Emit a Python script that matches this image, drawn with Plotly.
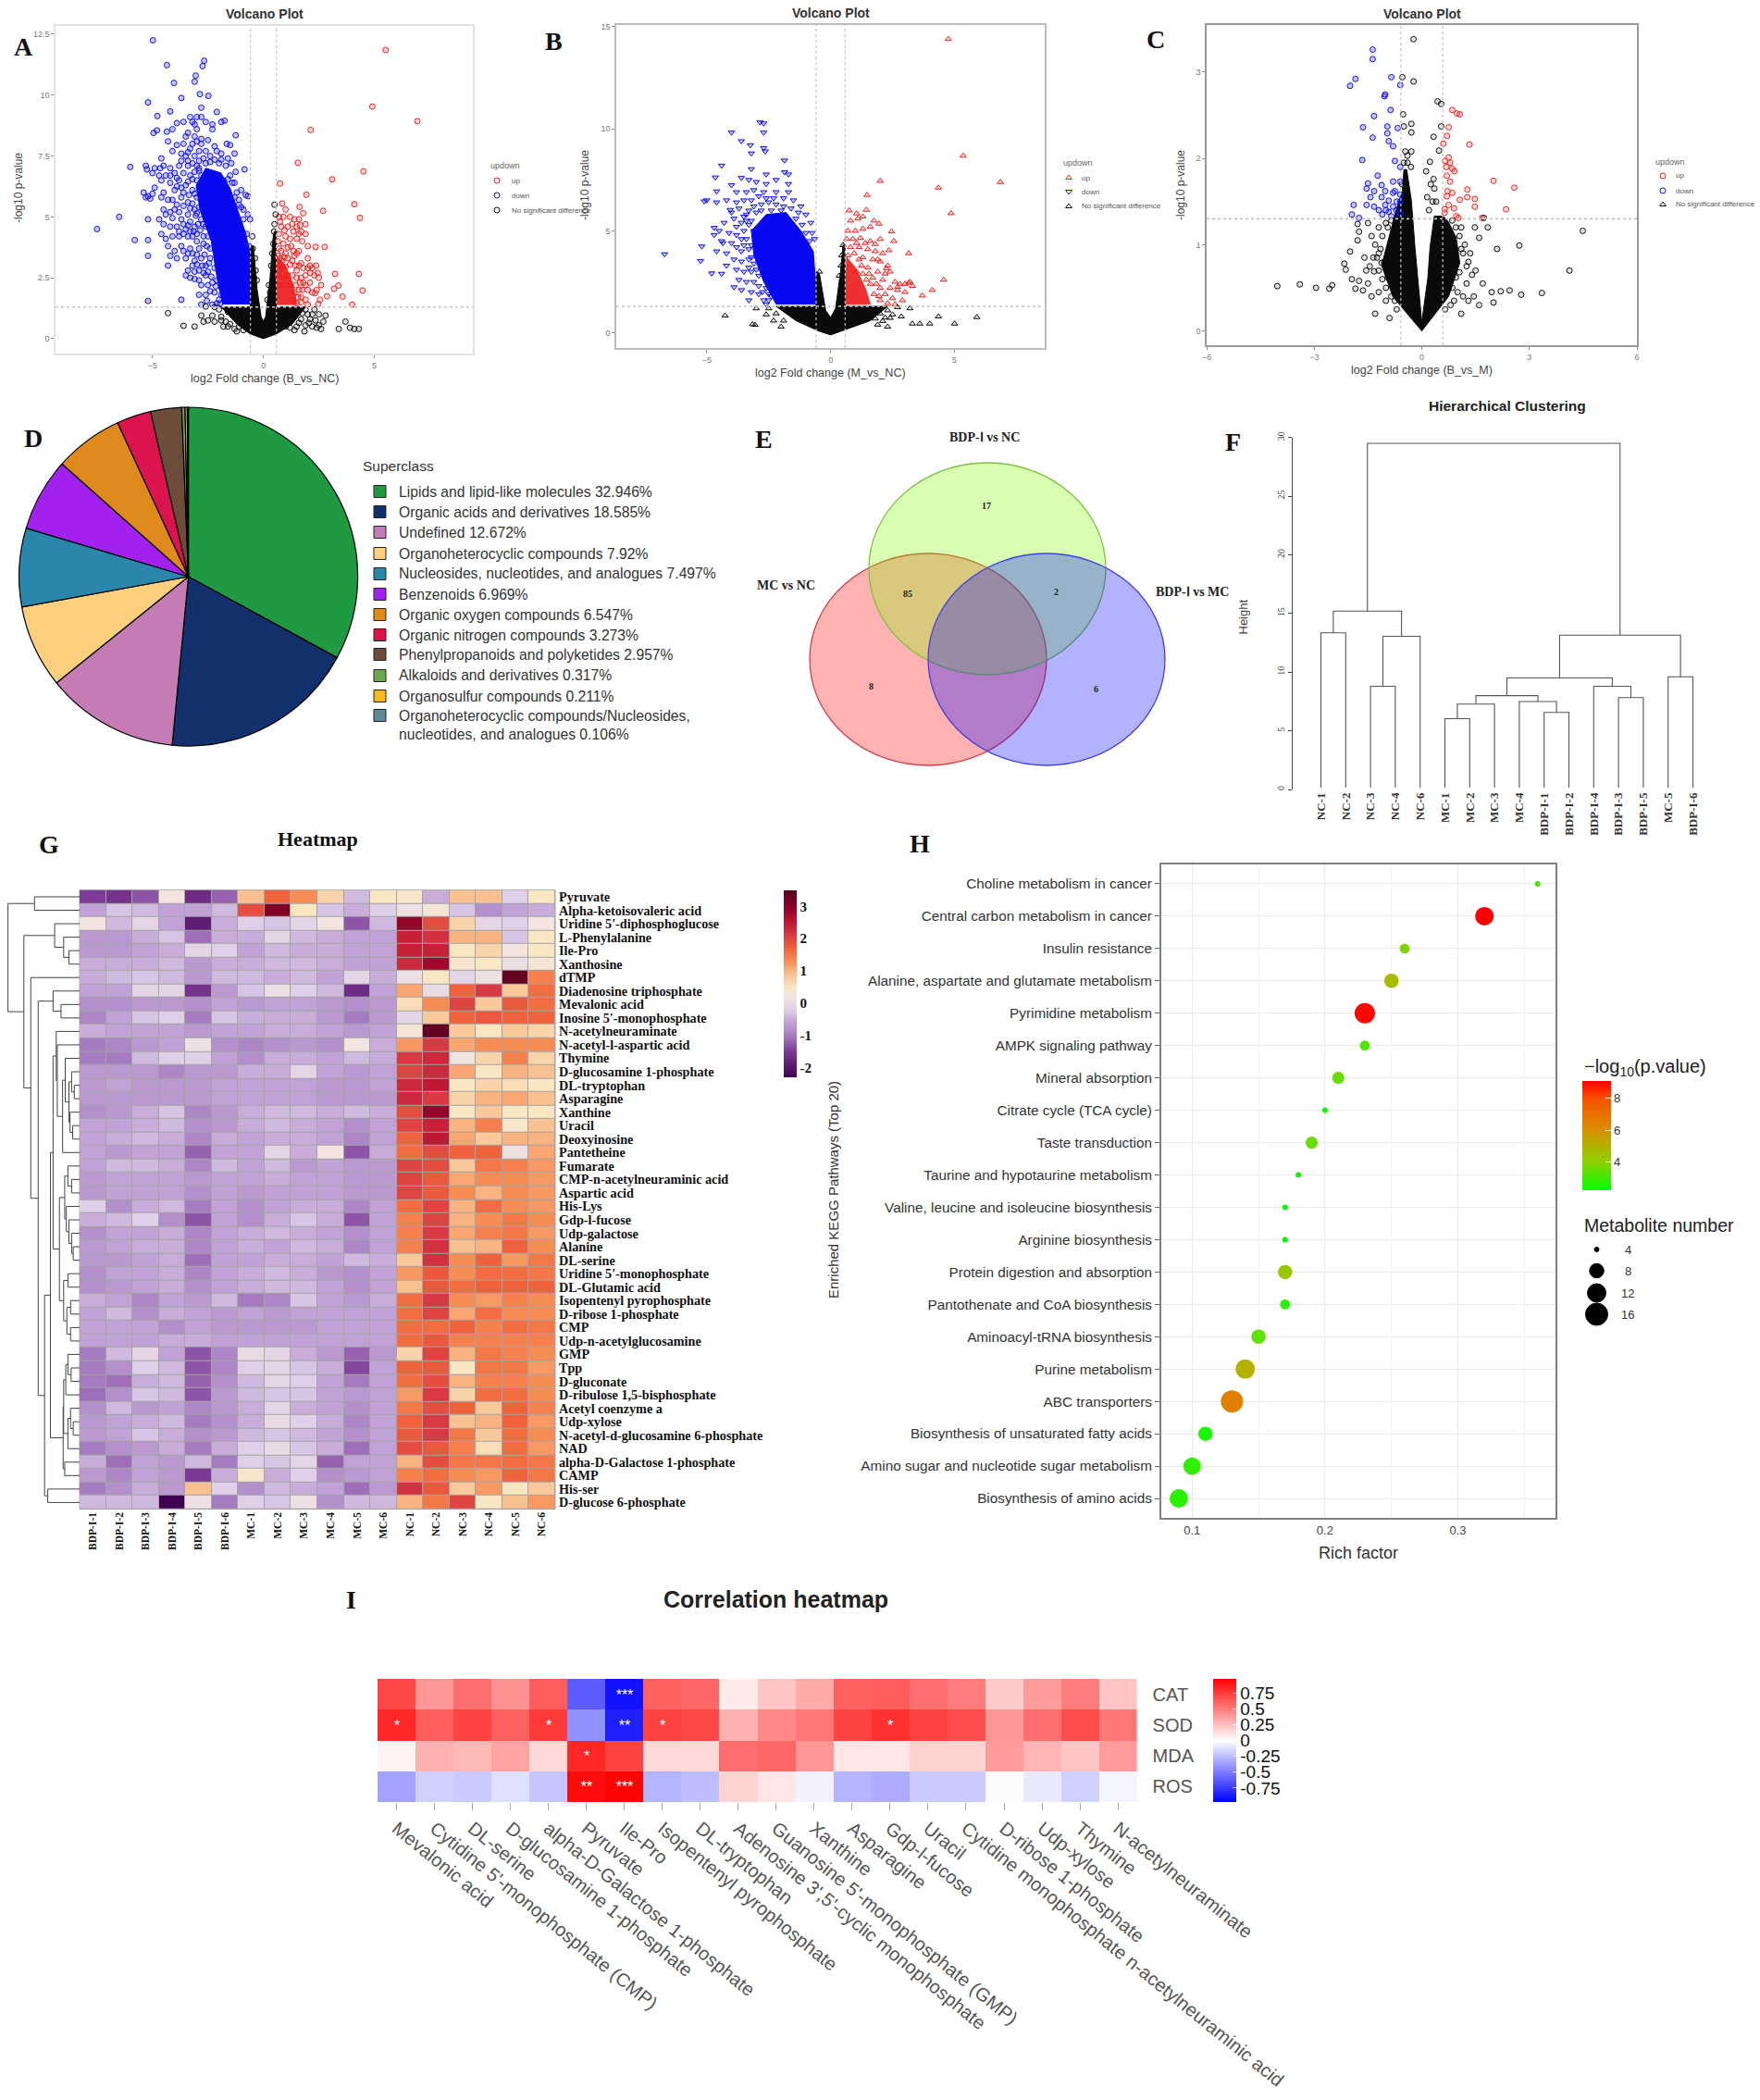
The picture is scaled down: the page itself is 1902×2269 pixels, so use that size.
import numpy as np
import plotly.graph_objects as go

W, H = 1902, 2269
SANS = "Liberation Sans"
SERIF = "Liberation Serif"

# ---------- Volcano data ----------
A_DOWN = [(-4.98,12.25),(-4.35,11.23),(-2.67,11.41),(-2.74,11.19),(-3.05,10.8),(-3.1,10.55),(-4.03,10.5),(-5.2,9.7),(-3.7,9.88),(-2.86,10.04),(-2.48,9.97),(-2.8,9.48),(-2.1,9.31),(-4.2,9.33),(-4.78,9.14),
(-3.3,9.1),(-3.0,9.1),(-2.8,9.1),(-3.6,8.9),(-3.2,8.9),(-2.6,8.9),(-1.9,8.9),(-1.75,8.95),(-2.3,8.8),(-3.1,8.8),(-3.9,8.85),(-4.1,8.6),(-3.0,8.6),(-2.3,8.6),(-4.95,8.45),(-4.8,8.55),(-4.35,8.5),(-3.4,8.45),(-1.25,8.35),
(-3.5,8.3),(-3.1,8.3),(-3,8.1),(-2.8,8.2),(-2.5,8.15),(-4.3,8.1),(-2.2,7.9),(-1.65,8),(-1.5,7.95),(-3.9,7.95),(-3.6,8),(-4.1,7.7),(-3.3,7.8),(-2.9,7.7),(-2.6,7.7),(-2.1,7.7),(-1.9,7.6),(-1.3,7.6),(-3.5,7.5),(-3.1,7.5),(-4.6,7.4),(-2.4,7.5),(-1.6,7.4),
(-6.0,7.05),(-5.3,7.1),(-5.25,6.95),(-4.9,7),(-4.65,7),(-4.5,7.1),(-4.2,7),(-3.8,7.1),(-3.4,7.1),(-3.0,7.1),(-2.6,7.2),(-2,7.2),(-1.7,7.1),(-5.0,6.8),(-4.7,6.7),(-4.4,6.7),(-4,6.8),(-3.6,6.8),(-3.3,6.7),(-2.9,6.9),(-0.85,6.95),(-1.25,6.85),(-1.5,6.7),(-3.0,6.5),
(-4.6,6.5),(-4.2,6.4),(-3.8,6.5),(-3.5,6.3),(-3.2,6.1),(-4.0,6.1),(-4.9,6.2),(-4.5,6.0),(-5.4,6.0),(-5.2,5.85),(-5.0,5.95),(-5.1,5.75),(-4.6,5.8),(-4.1,5.7),(-3.7,5.8),(-3.4,5.6),(-0.8,5.9),(-0.7,5.85),(-1.2,6.0),(-1.1,5.7),(-5.3,5.8),
(-4.0,5.3),(-4.4,5.1),(-3.8,5.2),(-3.4,5.1),(-3.1,5.3),(-4.1,4.95),(-3.7,4.9),(-3.3,4.8),(-6.5,5.0),(-5.2,4.9),(-4.7,4.9),(-4.5,4.7),(-4.2,4.6),(-3.9,4.6),(-3.5,4.5),(-3.1,4.6),(-0.6,4.9),(-0.7,5.1),(-7.5,4.5),
(-4.6,4.3),(-4.4,4.1),(-5.8,4.05),(-5.2,4.05),(-4.1,4.2),(-3.8,4.2),(-3.4,4.2),(-3.0,4.3),(-4.3,3.8),(-4,3.6),(-3.7,3.8),(-3.3,3.7),(-2.9,3.7),(-4.2,3.4),(-3.9,3.3),(-3.5,3.3),(-3.1,3.2),(-2.8,3.3),(-5.2,3.4),(-4.3,3.0),(-3.4,2.8),(-2.9,2.8),(-2.6,3.0),(-3.2,3),
(-3.5,2.6),(-3.3,2.5),(-3.1,2.45),(-2.9,2.4),(-2.6,2.6),(-2.8,2.2),(-2.5,2.2),(-2.3,2.3),(-2.9,1.8),(-2.6,1.8),(-2.2,1.9),(-3.7,1.6),(-5.2,1.55),(-2.0,1.6),(-2.3,1.4),(-2.8,1.4),(-1.9,1.8),
(-2.9,6.2),(-3.0,5.8),(-2.9,5.4),(-2.8,4.9),(-2.6,4.6),(-2.5,4.2),(-2.4,3.7),(-2.4,3.3),(-2.2,2.9),(-2.1,2.4),(-2.7,5.3),(-2.7,4.7),(-2.4,5.0),(-2.2,6.6),(-1.8,6.5),(-1.4,6.4),(-1.3,5.8),(-1,5.4),(-0.9,4.9),(-0.75,4.3),(-0.65,3.8),
(-3.7,7.3),(-3.4,7.3),(-3.2,7.2),(-2.9,7.3),(-2.7,7.4),(-2.4,7.25),(-2.2,7.35),(-1.9,7.35),(-1.45,7.2),(-2.8,8.0),(-3.2,8.0),(-3.4,7.65),(-3.7,7.6),
(-4.2,6.7),(-3.9,6.6),(-3.7,6.2),(-3.4,6.45),(-3.2,6.55),(-3.1,6.85),(-2.8,6.7),(-2.9,7.0),(-2.7,6.4),(-3.6,6.0),(-3.9,6.25),(-3.35,5.9),(-3.1,5.95),(-3.2,5.55),(-1.3,6.4),(-1.6,6.55),(-1.0,6.1),(-1.1,5.5),(-.9,5.3),
(-4.3,5.7),(-4.2,5.2),(-4.5,5.3),(-3.9,5.5),(-3.6,5.45),(-3.3,5.35),(-3.05,5.05),(-3.6,4.7),(-3.4,4.65),(-3.15,4.4),(-2.95,4.7),(-3.0,5.15),(-3.8,4.4),(-3.6,4.3),(-3.3,4.4),(-3.2,4.2),(-2.85,4.45),(-2.7,4.2),(-2.7,3.9),(-3.0,4.0),(-2.55,3.8),
(-3.6,3.6),(-3.4,3.5),(-3.2,3.5),(-3.0,3.45),(-2.65,3.45),(-3.0,3.05),(-2.75,3.0),(-2.5,2.75),(-2.45,3.1),(-2.35,2.55),(-2.7,2.7),(-3.1,2.75),(-2.4,1.95),(-2.15,2.15),(-2.55,1.55),(-2.1,1.45),(-1.95,1.45),(-1.9,2.1)]
A_UP = [(5.51,11.85),(4.91,9.53),(6.94,8.93),(2.13,8.57),(1.55,7.22),(4.51,6.87),(3.1,6.54),(.75,6.37),(1.94,5.91),(4.1,5.52),(1.63,5.41),(.85,5.55),(2.69,5.25),(1.79,5.15),(4.35,4.96),(2.35,3.77),(2.76,3.77),(3.23,2.66),(4.3,2.66),(2.5,2.5),(4.47,1.98),(3.38,2.18),(3.18,2.05),(3.57,1.73),(2.87,1.74),(2.47,1.42),(4.0,1.4),(2.38,3.0),(2.33,1.87),
(.9,5),(1.0,5.3),(.7,5),(1.2,5),(1.4,4.9),(1.6,4.9),(1.9,4.7),(.8,4.6),(1.1,4.6),(1.35,4.4),(1.7,4.4),(1.9,4.3),(.7,4.3),(1.0,4.2),(1.5,4.1),(1.75,4),(.65,4),(.9,3.9),(1.25,3.8),(1.6,3.6),(2.0,3.3),(1.4,3.4),(1.1,3.3),(1.7,3.1),(2.0,2.9),(2.2,2.9),(1.5,2.8),(1.9,2.6),(2.3,2.6),(1.8,2.3),(2.1,2.3),(1.6,2),(2.0,2),(2.2,1.9),(1.7,1.7),(1.9,1.6),(2.0,1.4),(.8,3.6),(1,3.5),
(.65,3.4),(.75,3.3),(.85,3.2),(.95,3.35),(.7,3.0),(.85,2.9),(1,2.95),(1.2,3.05),(1.3,3.2),(1.45,3),(1.6,3.0),(1.8,2.9),(.65,2.6),(.9,2.5),(1.1,2.6),(1.3,2.6),(1.5,2.5),(1.7,2.5),(2.1,2.7),(.7,2.2),(.95,2.2),(1.2,2.2),(1.45,2.2),(1.65,2.3),(1.9,2.2),(1.4,1.9),(1.55,1.7),(1.75,2.0),(1.3,1.6),(1.5,1.45),(1.7,1.5),(.7,3.7),(1.1,3.75),(1.35,3.6),(1.5,3.5),(1.2,4.1),(1.6,4.3),(1.3,4.7),(1.5,4.6),(.75,4.8),(.95,4.45),(1.65,4.65),(2.0,3.8),(2.1,3.0),(2.45,2.7),(2.6,2.2),(2.4,2.0),(2.55,1.6)]
A_NS = [(-4.3,1.05),(-3.6,.53),(-3.1,.5),(-2.8,.95),(-2.5,.75),(-2.2,.7),(-1.9,.75),(-1.8,.5),(-1.6,.5),(-2.6,1.32),(-1.9,.9),(-1.5,.6),(-1.3,.4),(-1.2,.3),(2.0,1.0),(2.2,1.0),(2.5,1.0),(2.7,.7),(3.7,.7),(3.4,.4),(3.9,.45),(4.1,.4),(4.3,.4),(2.6,.4),(2.4,.45),(2.2,.5),(1.9,.55),(2.1,.8),(1.7,.8),(1.5,.5),(1.4,.35),(1.9,1.2),(-0.5,4.2),(-.48,3.7),(-.38,3.3),(.5,5.5),(.55,5.1),(.5,4.7),(.48,4.4),(.45,3.9),(.4,3.5),(.35,3),
(-1.0,.95),(-1.3,1.1),(-1.6,1.1),(-2.0,1.2),(-2.2,1.3),(-1.1,.5),(-.9,.35),(-2.7,.7),(-2.3,.95),(-1.7,.7),(1.2,1.0),(1.5,1.1),(1.75,1.05),(2.3,1.2),(1.0,.5),(1.2,.45),(1.6,.65),(1.85,.3),(2.05,.65),(2.35,.75),(2.5,.55),(2.8,.95),(-.35,2.8),(-.42,2.5),(-.3,2.4),(.25,2.2),(.3,1.9),(.18,1.6)]
A_DOWN_CORE = [(-2.6,7.0),(-1.92,6.81),(-1.5,6.18),(-1.16,5.28),(-.82,4.39),(-.56,3.37),(-.51,1.42),(-1.84,1.42),(-2.09,2.5),(-2.35,4.0),(-2.86,5.28),(-3.03,6.3)]
A_UP_CORE = [(.6,1.4),(1.5,1.4),(1.35,2.2),(1.0,3.0),(.6,3.4)]
A_NS_CORE = [(-1.9,1.3),(-.58,1.3),(-.58,3.8),(-.45,3.8),(-.28,2),(-.1,.9),(0,.72),(.1,.9),(.3,2.5),(.45,4.3),(.58,4.5),(.58,1.3),(1.9,1.3),(1.3,.6),(.6,.2),(0,0),(-.6,.2),(-1.2,.6)]

B_DOWN = [(-2.85,10.32),(-2.7,10.27),(-4,9.82),(-2.7,9.82),(-3.6,9.4),(-3.24,9.2),(-2.7,9.06),(-2.64,8.9),(-3.2,8.8),(-1.86,8.45),(-4.4,8.2),(-4.65,7.62),(-3.2,8.03),(-2.6,7.77),(-1.86,7.88),(-1.7,7.77),(-4,7.24),(-4.6,6.94),(-5,6.5),(-5.1,6.45),(-4.6,6.4),(-4.05,6.03),(-4.7,5.15),(-4.7,4.8),(-5.2,4.24),(-4.35,4.4),(-6.7,3.86),(-5.25,3.53),(-4.8,2.92),(-3.9,2.24),
(-3.6,7.6),(-3.3,7.5),(-3.0,7.4),(-2.6,7.3),(-2.2,7.5),(-1.7,7.3),(-3.8,6.9),(-3.4,6.9),(-3.1,7.0),(-2.7,6.9),(-2.2,6.9),(-1.7,6.9),(-4.2,6.5),(-3.8,6.4),(-3.5,6.5),(-3.2,6.5),(-2.9,6.7),(-1.5,6.5),(-1.2,6.2),(-4.0,5.9),(-3.7,6.1),(-3.3,6.0),(-1.3,5.9),(-1.0,5.8),(-3.9,5.6),(-3.5,5.7),(-4.3,5.4),(-3.8,5.2),(-3.6,5.4),(-4.5,5.0),(-4.1,4.9),(-3.8,4.8),(-3.6,4.6),(-4.4,4.5),(-4.0,4.4),(-3.8,4.2),(-3.6,4.0),(-4.6,4.0),(-4.2,3.9),(-3.9,3.6),(-3.6,3.5),(-3.3,3.6),(-4.2,3.3),(-3.8,3.1),(-3.5,3.0),(-3.2,3.0),(-4.4,2.9),(-3.7,2.6),(-3.4,2.5),(-3.1,2.5),(-2.9,2.3),(-3.6,2.1),(-3.2,2.0),(-2.9,1.9),(-2.7,1.6),(-3.3,1.6),(-2.6,2.2),(-2.4,1.8),(-2.6,1.4),(-.8,5.4),(-.75,4.9),(-.65,4.6),(-3.2,4.3),(-3.1,5.0),(-3.2,5.5),
(-3.4,5.8),(-3.1,6.2),(-2.8,6.3),(-2.5,6.4),(-2.2,6.3),(-1.9,6.2),(-1.6,6.1),(-3.5,5.0),(-3.4,4.6),(-3.3,4.1),(-3.2,3.7),(-3.1,3.4),(-3.0,3.1),(-2.9,2.8),(-3.3,5.3),(-2.8,6.0),(-2.4,6.0),(-2.0,6.0),(-1.4,5.6),(-1.15,5.3),(-1.0,4.9),(-.85,4.5),(-3.4,5.5),(-3.0,5.9),(-3.5,4.3),(-3.3,3.2),(-2.6,6.6),(-2.3,6.6),(-1.9,6.6),(-2.75,2.0),(-2.5,1.6),(-2.5,1.9)]
B_UP = [(4.75,14.4),(5.35,8.68),(6.85,7.39),(2,7.45),(4.35,7.12),(1.47,6.76),(4.86,5.86),(1.44,6.03),(.75,6),(1.05,5.85),(1.3,5.7),(1.75,5.5),(1.95,5.35),(2.46,4.97),(2.55,4.5),(3.15,3.9),(2.35,4.05),(1.8,4.35),(1.2,4.65),(2.25,3.15),(2.4,3.0),(4.56,2.6),(3.15,2.45),(2.8,2.4),(2.7,2.25),(4.1,2.1),(3.7,1.83),
(.8,5.5),(1.1,5.6),(.7,5),(1,5),(1.3,5.1),(1.6,5.2),(.65,4.6),(.9,4.6),(1.6,4.5),(2,4.6),(.8,4.2),(1.15,4.2),(1.5,4.1),(1.8,4),(2.1,3.9),(1.3,3.7),(1.7,3.6),(2,3.5),(2.3,3.3),(1.5,3.2),(1.9,3.0),(2.2,2.9),(1.7,2.7),(2.1,2.6),(2.6,2.5),(3.0,2.4),(3.2,2.5),(3.3,2.3),(2.0,2.2),(2.4,2.2),(2.7,2.1),(3.0,2.0),(2.2,1.9),(2.5,1.7),(2.9,1.6),(2.0,1.6),(2.3,1.45),(2.6,1.4),
(.7,3.8),(.95,3.9),(1.15,3.6),(1.25,3.3),(1.05,3.0),(1.3,2.9),(1.45,2.6),(1.6,2.4),(1.85,2.4),(1.75,1.9),(1.95,1.8),(1.55,2.9),(1.4,4.4),(1.9,3.6),(1.05,4.4)]
B_NS = [(-4.26,.85),(-3.15,.42),(-3.05,.39),(-3.0,1.2),(2.85,.8),(4.35,.8),(5.9,.77),(5,.45),(3.3,.45),(3.6,.45),(4,.45),(2.7,1.26),(3.2,1.2),(2.4,.73),(2.1,.58),(-2.3,.6),(-2.6,.9),(-2.0,.3),(2.3,.3),(1.9,.4),(-.45,3.0),(.5,4.3),(.45,3.8),(.42,3.3),(.35,2.8),
(-2.5,1.2),(-2.2,.95),(-1.9,.6),(2.0,.95),(2.3,1.1),(2.5,.9),(2.2,.75),(1.8,.7)]
B_DOWN_CORE = [(-2.6,5.8),(-1.8,5.9),(-1.2,5.0),(-.7,4.0),(-.54,1.41),(-2.2,1.41),(-2.7,2.5),(-3.1,3.8),(-3.2,5.0)]
B_UP_CORE = [(.6,1.4),(1.6,1.4),(1.4,2.2),(1.0,3.2),(.65,3.7)]
B_NS_CORE = [(-2.2,1.3),(-.58,1.3),(-.58,3.0),(-.45,2.9),(-.2,1.1),(0,.75),(.2,1.2),(.4,3.0),(.5,4.3),(.58,4.3),(.58,1.3),(2.3,1.3),(1.6,.6),(.5,.1),(0,-.1),(-.5,.1),(-1.4,.6)]

C_DOWN = [(-1.37,3.26),(-1.37,3.15),(-1.85,2.92),(-2,2.84),(-.85,2.94),(-.6,2.85),(-1.02,2.74),(-1.04,2.72),(-.87,2.56),(-1.33,2.49),(-1.64,2.36),(-.96,2.37),(-.67,2.35),(-1.37,2.24),(-.96,2.29),(-.92,2.2),(-.8,2.14),(-1.66,1.98),(-.75,1.97),(-.6,1.9),(-1.23,1.8),(-1.5,1.71),(-.8,1.73),(-1.12,1.69),(-.6,1.73),(-1.54,1.65),(-1.33,1.62),(-1.02,1.62),(-.8,1.6),(-.6,1.58),(-1.12,1.55),(-1.43,1.55),(-.92,1.51),(-.6,1.5),(-1.9,1.46),(-1.02,1.46),(-.8,1.44),(-1.54,1.46),(-1.33,1.44),(-.71,1.4),(-.92,1.38),(-1.95,1.35),(-.6,1.36),(-1.75,1.31),(-1.1,1.35),(-1.0,1.4),(-.85,1.33),(-1.2,1.4),(-.7,1.5),(-.75,1.62)]
C_UP = [(.85,2.56),(1.06,2.51),(.98,2.52),(.75,2.36),(.7,2.26),(.6,2.17),(1.33,2.16),(.75,2.01),(.65,1.97),(.79,1.95),(.85,1.88),(.91,1.85),(.7,1.8),(.79,1.73),(2.0,1.74),(2.58,1.66),(1.27,1.64),(.85,1.6),(.7,1.56),(1.27,1.55),(1.06,1.52),(1.48,1.53),(2.35,1.41),(.64,1.41),(.64,1.37),(.75,1.46),(1.48,1.44),(.96,1.33),(1.02,1.31),(1.68,1.31),(.68,1.9),(.72,1.62),(.9,1.42)]
C_NS = [(-.23,3.38),(-.23,2.89),(.44,2.66),(.54,2.63),(-.54,2.94),(-.52,2.51),(-.29,2.4),(-.5,2.37),(-.29,2.3),(.54,2.37),(-.46,2.08),(-.29,2.08),(-.4,2.03),(.33,2.25),(.48,2.09),(.23,1.96),(.12,1.85),(.33,1.76),(4.49,1.16),(2.72,.99),(4.12,.7),(3.35,.44),(2.77,.42),(2.45,.47),(2.2,.46),(1.95,.45),(2.0,.33),(2.1,.95),(1.84,1.2),(1.6,1.08),(1.48,1.2),(1.73,1.31),(-4.03,.52),(-3.4,.54),(-2.95,.5),(-2.5,.53),(-2.58,.49),(-2.16,.78),(-2.12,.71),(-2.0,.92),(-1.95,.6),(-1.75,.58),(-1.85,.49),(-1.64,.47),(-1.79,1.05),(-1.75,1.15),(-1.79,1.24),(-1.33,.69),(-1.12,.79),(-1.5,.55),(-1.4,.4),(-1.2,.45),(-1.0,.35),(-1.3,.2),(-.9,.15),(1.3,.8),(1.5,.7),(1.7,.55),(1.45,.4),(1.3,.35),(1.6,.3),(1.1,.2),(1.2,1.0),(1.1,1.2),(-1.1,1.1),(-1.3,1.0),(-1.0,1.25),(-.9,.6),(-1.2,.9),
(-1.0,.5),(-.95,.62),(-.85,.4),(-1.05,.8),(-1.15,.95),(-1.25,.85),(-.95,1.2),(-.85,1.28),(.85,.5),(.95,.62),(1.0,.45),(.9,.35),(1.05,.68),(1.15,.9),(1.25,.75),(1.05,1.1),(1.1,.95),(.95,1.2),(.85,1.28),(1.35,.9),(1.4,.65),(1.25,.55),(1.15,.4),(.8,.3),(.65,.25),(-.7,.25),(-.75,.35),(-1.1,.6),(-1.2,.7),(-1.35,.85),(-1.45,.75),(-1.55,.7),(-1.6,.85),(-1.4,1.1),(-1.2,1.2),(-1.5,1.25),(-.4,1.95),(-.5,1.95),(-.45,1.65),(-.55,1.7),(-.3,1.9),(.3,1.5),(.35,1.65),(.4,1.5),(.25,1.7),(.2,1.4),(.15,1.55)]
C_NS_CORE_L = [(0,0),(-.81,.4),(-1.12,.76),(-.91,1.08),(-.71,1.41),(-.54,1.62),(-.5,1.87),(-.42,1.87),(-.29,1.51),(-.19,.97),(-.12,.62),(0,.1)]
C_NS_CORE_R = [(0,0),(.75,.4),(1.06,.79),(.96,1.08),(.75,1.26),(.6,1.33),(.35,1.33),(.23,.97),(.17,.62),(0,.1)]

# ---------- Pie ----------
PIE_NAMES = ["Lipids and lipid-like molecules","Organic acids and derivatives","Undefined","Organoheterocyclic compounds","Nucleosides, nucleotides, and analogues","Benzenoids","Organic oxygen compounds","Organic nitrogen compounds","Phenylpropanoids and polyketides","Alkaloids and derivatives","Organosulfur compounds","Organoheterocyclic compounds/Nucleosides,<br>nucleotides, and analogues"]
PIE_VALUES = [32.946,18.585,12.672,7.92,7.497,6.969,6.547,3.273,2.957,0.317,0.211,0.106]
PIE_LABELS = ["32.946%","18.585%","12.672%","7.92%","7.497%","6.969%","6.547%","3.273%","2.957%","0.317%","0.211%","0.106%"]
PIE_COLORS = ["#1f9a43","#11306c","#c57cb4","#fbcf7e","#2a87ab","#a321ef","#e08a1e","#dc144e","#6e4c3c","#6aa84f","#f5b921","#5f8a96"]

# ---------- Venn ----------
VENN_CX = [1003, 1067, 1131]
VENN_CY = [712.5, 614.5, 712.5]
VENN_FILL = ["rgba(255,0,0,0.30)", "rgba(127,255,0,0.30)", "rgba(0,0,255,0.30)"]
VENN_EDGE = ["#d0404a", "#80c040", "#4040e0"]

# ---------- Dendrogram F ----------
F_LEAVES = ["NC-1","NC-2","NC-3","NC-4","NC-6","MC-1","MC-2","MC-3","MC-4","BDP-I-1","BDP-I-2","BDP-I-4","BDP-I-3","BDP-I-5","MC-5","BDP-I-6"]
F_TREE = (29.5,(15.2,(13.35,0,1),(13.05,(8.8,2,3),4)),(13.15,(9.5,(8.0,(7.28,(6.04,5,6),7),(7.49,8,(6.57,9,10))),(8.8,11,(7.83,12,13))),(9.6,14,15)))

# ---------- Heatmap G ----------
G_ROWS = ["Pyruvate","Alpha-ketoisovaleric acid","Uridine 5'-diphosphoglucose","L-Phenylalanine","Ile-Pro","Xanthosine","dTMP","Diadenosine triphosphate","Mevalonic acid","Inosine 5'-monophosphate","N-acetylneuraminate","N-acetyl-l-aspartic acid","Thymine","D-glucosamine 1-phosphate","DL-tryptophan","Asparagine","Xanthine","Uracil","Deoxyinosine","Pantetheine","Fumarate","CMP-n-acetylneuraminic acid","Aspartic acid","His-Lys","Gdp-l-fucose","Udp-galactose","Alanine","DL-serine","Uridine 5'-monophosphate","DL-Glutamic acid","Isopentenyl pyrophosphate","D-ribose 1-phosphate","CMP","Udp-n-acetylglucosamine","GMP","Tpp","D-gluconate","D-ribulose 1,5-bisphosphate","Acetyl coenzyme a","Udp-xylose","N-acetyl-d-glucosamine 6-phosphate","NAD","alpha-D-Galactose 1-phosphate","CAMP","His-ser","D-glucose 6-phosphate"]
G_COLS = ["BDP-I-1","BDP-I-2","BDP-I-3","BDP-I-4","BDP-I-5","BDP-I-6","MC-1","MC-2","MC-3","MC-4","MC-5","MC-6","NC-1","NC-2","NC-3","NC-4","NC-5","NC-6"]
G_Z = [
[-1.5,-1.6,-1.3,0.2,-1.7,-1.2,0.9,1.7,1.3,0.7,-0.4,0.5,0.4,-0.5,0.9,0.9,-0.2,0.5],
[-0.6,-0.3,-0.4,-0.6,-0.6,-0.4,1.9,3.1,0.5,-0.3,-0.5,-0.2,0.1,0.3,-0.3,-0.8,-0.6,-0.5],
[0.2,-0.4,-0.1,-0.6,-1.9,-0.5,-0.2,-0.3,-0.1,0.2,-1.3,-0.4,2.9,1.9,0.7,-0.1,-0.2,0.2],
[-0.7,-0.7,-0.5,-0.3,-1.1,-0.5,-0.5,-0.1,-0.4,-0.5,-0.6,-0.6,2.4,2.2,1.0,1.0,-0.3,0.5],
[-0.7,-0.7,-0.6,-0.5,-0.1,-0.2,-0.6,-0.4,-0.5,-0.5,-0.6,-0.6,2.4,2.4,0.5,0.7,0.2,0.5],
[-0.5,-0.5,-0.5,-0.4,-0.7,-0.5,-0.5,-0.4,-0.4,-0.5,-0.6,-0.6,2.3,2.8,0.4,0.5,0.1,0.3],
[-0.5,-0.4,-0.3,-0.4,-0.7,-0.4,-0.4,-0.5,-0.4,-0.6,-0.1,-0.5,0.1,0.5,-0.1,0.1,3.4,1.4],
[-0.6,-0.6,-0.1,-0.1,-1.6,-0.7,-0.3,0.1,-0.2,-0.4,-1.7,-0.6,1.1,0.0,1.7,2.1,0.8,1.6],
[-0.8,-0.8,-0.7,-0.7,-0.8,-0.6,-0.7,-0.6,-0.6,-0.7,-0.8,-0.7,0.6,1.3,2.0,0.8,1.8,1.6],
[-0.9,-0.6,-0.3,-0.2,-1.0,-0.3,-0.5,-0.5,-0.5,-0.7,-1.0,-0.7,-0.1,0.8,1.7,1.8,1.7,1.7],
[-0.5,-0.6,-0.6,-0.6,-0.7,-0.6,-0.6,-0.5,-0.5,-0.6,-0.7,-0.6,0.3,3.4,0.8,0.5,0.8,0.7],
[-1.0,-0.9,-0.7,-0.6,0.1,-0.8,-0.9,-0.8,-0.7,-0.8,0.2,-0.5,1.2,2.1,1.1,1.3,1.3,1.3],
[-1.0,-1.0,-0.4,-0.2,-0.2,-0.6,-0.8,-0.5,-0.5,-0.6,-0.4,-0.5,2.1,2.3,0.2,0.7,1.4,0.7],
[-0.7,-0.7,-0.7,-0.9,-0.7,-0.7,-0.5,-0.5,-0.1,-0.6,-0.7,-0.6,2.0,2.3,1.1,0.5,1.0,0.9],
[-0.7,-0.6,-0.7,-0.7,-0.7,-0.6,-0.6,-0.6,-0.6,-0.7,-0.7,-0.6,2.3,2.5,0.5,0.7,0.6,0.5],
[-0.7,-0.7,-0.7,-0.7,-0.7,-0.6,-0.6,-0.6,-0.6,-0.7,-0.7,-0.7,2.3,2.1,0.7,1.0,1.1,0.9],
[-0.8,-0.7,-0.5,-0.3,-0.9,-0.7,-0.5,-0.4,-0.4,-0.5,-0.4,-0.5,1.9,2.9,0.5,0.8,0.5,0.5],
[-0.6,-0.6,-0.5,-0.4,-0.8,-0.7,-0.5,-0.4,-0.5,-0.6,-0.8,-0.6,2.0,2.4,1.0,1.4,0.4,0.9],
[-0.6,-0.5,-0.4,-0.5,-0.9,-0.5,-0.6,-0.5,-0.5,-0.6,-0.9,-0.6,1.7,2.5,1.1,0.8,1.0,1.0],
[-0.6,-0.7,-0.6,-0.6,-1.2,-0.6,-0.6,-0.1,-0.5,0.2,-1.3,-0.5,1.6,1.9,1.7,1.7,0.1,1.1],
[-0.6,-0.4,-0.4,-0.5,-0.9,-0.4,-0.6,-0.4,-0.7,-0.6,-0.7,-0.7,2.0,1.9,0.8,1.5,1.4,1.2],
[-0.7,-0.6,-0.6,-0.6,-0.7,-0.6,-0.6,-0.5,-0.6,-0.6,-0.7,-0.7,2.0,1.8,1.1,1.3,1.3,1.2],
[-0.7,-0.6,-0.6,-0.6,-0.8,-0.6,-0.7,-0.6,-0.6,-0.6,-0.7,-0.7,2.0,1.8,1.3,1.0,1.3,1.2],
[-0.2,-0.8,-0.5,-0.4,-1.0,-0.6,-0.8,-0.6,-0.5,-0.5,-0.9,-0.6,1.6,2.0,1.0,1.6,1.3,1.2],
[-0.5,-0.4,-0.2,-0.8,-1.3,-0.6,-0.8,-0.5,-0.3,-0.5,-1.3,-0.6,1.4,2.0,1.0,1.3,1.5,1.3],
[-0.8,-0.6,-0.6,-0.5,-0.9,-0.6,-0.5,-0.4,-0.5,-0.6,-0.8,-0.6,1.4,2.1,1.1,1.4,1.5,1.2],
[-0.7,-0.6,-0.5,-0.5,-0.9,-0.6,-0.5,-0.6,-0.4,-0.5,-0.9,-0.6,1.4,2.2,0.9,1.0,1.7,1.3],
[-0.7,-0.7,-0.6,-0.5,-1.1,-0.6,-0.6,-0.5,-0.5,-0.6,-0.4,-0.5,0.8,2.2,1.3,1.7,1.2,1.5],
[-0.8,-0.6,-0.6,-0.5,-0.9,-0.6,-0.5,-0.4,-0.5,-0.7,-0.8,-0.6,1.2,1.8,1.3,1.6,1.6,1.5],
[-0.8,-0.7,-0.6,-0.5,-0.8,-0.6,-0.5,-0.4,-0.4,-0.6,-0.8,-0.6,0.9,1.8,1.6,1.7,1.7,1.7],
[-0.5,-0.6,-0.9,-0.6,-0.7,-0.4,-1.0,-0.9,-0.3,-0.6,-0.7,-0.5,1.6,2.1,1.3,1.2,1.4,1.3],
[-0.6,-0.4,-0.8,-0.5,-0.6,-0.7,-0.6,-0.7,-0.6,-0.6,-0.6,-0.6,1.6,2.0,1.1,1.6,1.3,1.3],
[-0.6,-0.6,-0.6,-0.8,-0.6,-0.7,-0.7,-0.7,-0.7,-0.6,-0.6,-0.6,1.6,1.6,1.7,1.4,1.6,1.5],
[-0.6,-0.6,-0.6,-0.5,-0.5,-0.6,-0.6,-0.6,-0.6,-0.6,-0.6,-0.6,1.6,1.8,1.4,1.4,1.4,1.4],
[-1.0,-0.4,-0.1,-0.6,-1.3,-0.9,0.0,-0.1,-0.5,-0.7,-1.2,-0.7,0.7,2.0,1.0,1.5,1.4,1.3],
[-1.0,-0.8,-0.2,-0.4,-1.3,-0.9,-0.2,-0.1,-0.3,-0.5,-1.4,-0.6,1.7,1.8,0.5,1.5,1.5,1.2],
[-1.0,-1.1,-0.5,-0.4,-1.2,-0.8,-0.4,-0.1,-0.2,-0.6,-1.0,-0.6,1.6,1.9,1.0,1.4,1.4,1.3],
[-1.1,-0.8,-0.3,-0.4,-1.3,-0.7,-0.4,-0.3,-0.3,-0.6,-0.7,-0.6,1.2,2.1,0.7,1.6,1.6,1.3],
[-0.8,-0.4,-0.7,-0.6,-0.9,-0.7,-0.5,-0.1,-0.5,-0.6,-0.8,-0.6,1.5,1.9,1.7,0.8,1.7,1.4],
[-0.7,-0.6,-0.5,-0.4,-1.0,-0.8,-0.5,0.0,-0.2,-0.5,-0.9,-0.6,1.7,2.1,0.9,1.0,1.7,1.2],
[-0.7,-0.6,-0.3,-0.5,-0.8,-0.7,-0.4,-0.3,-0.4,-0.6,-0.8,-0.6,1.8,2.1,1.5,0.8,1.6,1.3],
[-1.0,-0.8,-0.7,-0.5,-1.0,-0.5,-0.2,0.0,-0.3,-0.5,-1.1,-0.6,1.9,1.8,1.4,0.6,1.6,1.2],
[-0.5,-1.1,-0.6,-0.7,-0.4,-1.0,-0.2,-0.3,-0.1,-1.2,-0.6,-0.6,1.0,1.9,1.5,1.5,1.6,1.5],
[-0.7,-0.9,-0.6,-0.7,-1.5,-0.5,0.4,-0.5,-0.2,-0.8,-0.7,-0.6,1.4,1.6,1.3,1.2,1.7,1.5],
[-1.0,-0.8,-0.5,-0.7,0.9,-0.2,-0.8,-0.4,-0.5,-0.6,-1.1,-0.7,2.2,1.8,0.8,1.2,0.5,0.8],
[-0.4,-0.4,-0.4,-2.3,0.1,-1.0,-0.2,-0.3,0.1,-0.8,-0.4,-0.4,1.0,1.5,2.0,0.5,0.9,1.2]]
G_STOPS_V = [-2.3,-1.5,-1.0,-0.6,-0.2,0.2,0.5,0.9,1.3,1.7,2.1,2.6,3.0,3.5]
G_STOPS_C = ["#3f004f","#7d3a96","#a67cc0","#c0a2d6","#e0cfe8","#f3e4e0","#f9e6c2","#f9c090","#f88c55","#f0623c","#d83a44","#b81030","#8a0028","#5a0020"]
G_TREE = (15,(65,0,1),(45,(103,2,(120,3,(130,4,5))),(58,6,(72,(100,7,(115,8,9)),(84,(95,
    (100,(106,10,(108,11,(118,(123,12,(130,(135,13,(140,14,15)),(132,16,(137,17,18)))),19))),
         (112,(122,(128,20,(135,21,22)),(125,23,(130,24,(135,25,(138,26,27))))),(120,(128,28,29),(126,(133,30,31),(133,32,33))))),
    (119,(120,(124,(128,34,(134,35,36)),37),(128,(133,38,(138,39,40)),41)),(122,42,43))),
    (90,44,45))))))

# ---------- Bubble H ----------
H_PATHS = ["Choline metabolism in cancer","Central carbon metabolism in cancer","Insulin resistance","Alanine, aspartate and glutamate metabolism","Pyrimidine metabolism","AMPK signaling pathway","Mineral absorption","Citrate cycle (TCA cycle)","Taste transduction","Taurine and hypotaurine metabolism","Valine, leucine and isoleucine biosynthesis","Arginine biosynthesis","Protein digestion and absorption","Pantothenate and CoA biosynthesis","Aminoacyl-tRNA biosynthesis","Purine metabolism","ABC transporters","Biosynthesis of unsaturated fatty acids","Amino sugar and nucleotide sugar metabolism","Biosynthesis of amino acids"]
H_RICH = [.36,.32,.26,.25,.23,.23,.21,.20,.19,.18,.17,.17,.17,.17,.15,.14,.13,.11,.10,.09]
H_NUM = [4,12,6,8,14,6,7,4,7,4,4,4,8,6,8,13,16,8,11,12]
H_P = [3.1,9.2,3.8,4.7,9.0,3.2,3.5,2.3,3.5,2.3,2.2,2.2,4.3,2.7,3.4,5.0,6.5,2.5,2.8,2.7]

# ---------- Correlation I ----------
I_COLS = ["Mevalonic acid","Cytidine 5'-monophosphate (CMP)","DL-serine","D-glucosamine 1-phosphate","alpha-D-Galactose 1-phosphate","Pyruvate","Ile-Pro","Isopentenyl pyrophosphate","DL-tryptophan","Adenosine 3',5'-cyclic monophosphate","Guanosine 5'-monophosphate (GMP)","Xanthine","Asparagine","Gdp-l-fucose","Uracil","Cytidine monophosphate n-acetylneuraminic acid","D-ribose 1-phosphate","Udp-xylose","Thymine","N-acetylneuraminate"]
I_ROWS = ["CAT","SOD","MDA","ROS"]
I_Z = [[.7,.4,.55,.42,.62,-.62,-.9,.6,.58,.08,.22,.32,.6,.62,.55,.5,.2,.38,.5,.22],
[.82,.62,.72,.6,.75,-.42,-.85,.72,.7,.3,.45,.52,.72,.78,.72,.68,.4,.55,.68,.52],
[.05,.3,.27,.35,.15,.82,.72,.15,.15,.55,.58,.4,.1,.1,.17,.17,.38,.28,.22,.38],
[-.35,-.18,-.2,-.12,-.22,.92,.96,-.28,-.25,.17,.1,-.05,-.28,-.32,-.2,-.2,-.01,-.08,-.18,-.04]]
I_STARS = [["","","","","","","***","","","","","","","","","","","","",""],
["*","","","","*","","**","*","","","","","","*","","","","","",""],
["","","","","","*","","","","","","","","","","","","","",""],
["","","","","","**","***","","","","","","","","","","","","",""]]

# ---------- Layout helpers ----------
def fx(px): return px / W
def fy(py): return 1 - py / H
def xdom(a, b): return [fx(a), fx(b)]
def ydom(top, bottom): return [fy(bottom), fy(top)]
def xs(p): return [q[0] for q in p]
def ys(p): return [q[1] for q in p]
def closed(p): return p + [p[0]]

fig = go.Figure()
ann = []
shapes = []
def text(t, x, y, size=12, color="#333", family=SANS, bold=False, anchor="center", angle=0):
    ann.append(dict(text=t, x=fx(x), y=fy(y), xref="paper", yref="paper", showarrow=False, xanchor=anchor, yanchor="middle",
                    textangle=angle, font=dict(size=size, color=color, family=family, weight="bold" if bold else "normal")))

def volcano(idx, cores, down, up, ns, dsym, usym, nsym, box, xr, yr, xt, yt, line, tfont):
    xa, ya = ("x" + idx), ("y" + idx)
    for core, col in cores:
        fig.add_trace(go.Scatter(x=xs(closed(core)), y=ys(closed(core)), mode="lines", fill="toself", fillcolor=col, line=dict(color=col, width=1), xaxis=xa, yaxis=ya, hoverinfo="skip"))
    for pts, col, sym, fill in [(down, "#1010f0", dsym, "rgba(0,0,255,0.22)"), (up, "#f02020", usym, "rgba(255,0,0,0.15)"), (ns, "#101010", nsym, "rgba(0,0,0,0.12)")]:
        fig.add_trace(go.Scatter(x=xs(pts), y=ys(pts), mode="markers", xaxis=xa, yaxis=ya,
                                 marker=dict(symbol=sym, size=6, color=fill, line=dict(color=col, width=1))))
    for v in (-0.585, 0.585):
        fig.add_trace(go.Scatter(x=[v, v], y=yr, mode="lines", line=dict(color="#c4c4c4", width=1.2, dash="dot"), xaxis=xa, yaxis=ya, hoverinfo="skip"))
    fig.add_trace(go.Scatter(x=xr, y=[1.3, 1.3], mode="lines", line=dict(color="#c4c4c4", width=1.6, dash="dot"), xaxis=xa, yaxis=ya, hoverinfo="skip"))
    key = idx if idx else ""
    common = dict(showgrid=False, zeroline=False, showline=True, linecolor=line, linewidth=1.5, mirror=True, ticks="outside", ticklen=3, tickcolor="#888", tickfont=tfont)
    fig.update_layout(**{"xaxis" + key: dict(domain=xdom(box[0], box[1]), range=xr, tickvals=xt, anchor="y" + key, **common),
                         "yaxis" + key: dict(domain=ydom(box[2], box[3]), range=yr, tickvals=yt, anchor="x" + key, **common)})

tf = dict(size=9, color="#777", family=SANS)
volcano("", [(A_DOWN_CORE, "#0808f0"), (A_UP_CORE, "#f03030"), (A_NS_CORE, "#0a0a0a")], A_DOWN, A_UP, A_NS, "circle", "circle", "circle",
        (60, 511, 28, 382), [-9.37, 9.44], [-0.61, 12.84], [-5, 0, 5], [0, 2.5, 5, 7.5, 10, 12.5], "#e2e2e2", tf)
volcano("2", [(B_DOWN_CORE, "#0808f0"), (B_UP_CORE, "#f03030"), (B_NS_CORE, "#0a0a0a")], B_DOWN, B_UP, B_NS, "triangle-down", "triangle-up", "triangle-up",
        (666, 1128.5, 27, 376), [-8.65, 8.62], [-0.74, 15.09], [-5, 0, 5], [0, 5, 10, 15], "#bcbcbc", tf)
volcano("3", [(C_NS_CORE_L, "#0a0a0a"), (C_NS_CORE_R, "#0a0a0a")], C_DOWN, C_UP, C_NS, "circle", "circle", "circle",
        (1304, 1769, 27, 373), [-6, 6], [-0.165, 3.545], [-6, -3, 0, 3, 6], [0, 1, 2, 3], "#9a9a9a", tf)

LEG_COL = {"up": "#f02020", "down": "#1010f0", "No significant difference": "#101010"}
overlay_x, overlay_y, overlay_sym, overlay_col, overlay_size = [], [], [], [], []
def vlegend(tx, ty, mx, txtx, rows, syms):
    text("updown", tx, ty, size=9, color="#666", anchor="left")
    for (lab, yy), s in zip(rows, syms):
        overlay_x.append(mx); overlay_y.append(yy); overlay_sym.append(s + "-open"); overlay_col.append(LEG_COL[lab]); overlay_size.append(6)
        text(lab, txtx, yy, size=8, color="#555", anchor="left")
LAB = ["up", "down", "No significant difference"]
vlegend(528, 179, 537, 551, list(zip(LAB, [195, 211, 227])), ["circle", "circle", "circle"])
vlegend(1147, 176, 1155, 1167, list(zip(LAB, [192, 207, 223])), ["triangle-up", "triangle-down", "triangle-up"])
vlegend(1787, 175, 1797, 1809, list(zip(LAB, [190, 206, 221])), ["circle", "circle", "triangle-up"])

for t, x, y in [("Volcano Plot", 286, 15), ("Volcano Plot", 897.5, 14), ("Volcano Plot", 1536.6, 15)]:
    text(t, x, y, size=14, color="#333", bold=True)
for t, x, y in [("log2 Fold change (B_vs_NC)", 286, 409), ("log2 Fold change (M_vs_NC)", 897.5, 403), ("log2 Fold change (B_vs_M)", 1536.6, 400)]:
    text(t, x, y, size=12.5, color="#444")
text("-log10 p-value", 20, 203, size=12, color="#444", angle=-90)
text("-log10 p-value", 632, 200, size=12, color="#444", angle=-90)
text("-log10 p-value", 1276, 200, size=12, color="#444", angle=-90)

for t, x, y in [("A", 25, 50), ("B", 598, 45), ("C", 1249, 43), ("D", 36, 474), ("E", 825, 475), ("F", 1332, 478), ("G", 53, 913), ("H", 994, 912), ("I", 379, 1728)]:
    text(t, x, y, size=28, color="#111", family=SERIF, bold=True)

# ---------- Pie ----------
fig.add_trace(go.Pie(values=PIE_VALUES, labels=PIE_NAMES, sort=False, direction="clockwise", rotation=0, textinfo="none",
                     marker=dict(colors=PIE_COLORS, line=dict(color="#000", width=1.2)), showlegend=False,
                     domain=dict(x=xdom(20.6, 386.6), y=ydom(440, 806))))
text("Superclass", 390, 503, size=15.5, color="#333", anchor="left")
LEG_Y = [531, 553, 575, 598, 620, 642, 664, 686, 707, 730, 752, 783]
for name, lab, col, yy in zip(PIE_NAMES, PIE_LABELS, PIE_COLORS, LEG_Y):
    top = yy - 10 if "<br>" in name else yy
    shapes.append(dict(type="rect", xref="paper", yref="paper", x0=fx(404), x1=fx(417), y0=fy(top - 6.5), y1=fy(top + 6.5), fillcolor=col, line=dict(color="#222", width=1)))
    ann.append(dict(text=name + " " + lab, x=fx(429), y=fy(yy), xref="paper", yref="paper", showarrow=False, xanchor="left", yanchor="middle", align="left",
                    font=dict(size=15.7, color="#333", family=SANS)))

# ---------- Venn ----------
for cx, cy, fc, ec in zip(VENN_CX, VENN_CY, VENN_FILL, VENN_EDGE):
    shapes.append(dict(type="circle", xref="x4", yref="y4", x0=cx - 128, x1=cx + 128, y0=cy - 114.5, y1=cy + 114.5, fillcolor=fc, line=dict(color=ec, width=1.3)))
fig.add_trace(go.Scatter(x=[870, 1270], y=[500, 830], mode="markers", marker=dict(opacity=0), xaxis="x4", yaxis="y4", hoverinfo="skip"))
fig.update_layout(xaxis4=dict(domain=xdom(860, 1280), range=[860, 1280], visible=False, anchor="y4"),
                  yaxis4=dict(domain=ydom(490, 840), range=[840, 490], visible=False, anchor="x4"))
for t, x, y in [("BDP-Ⅰ vs NC", 1063.5, 473), ("MC vs NC", 849, 632), ("BDP-Ⅰ vs MC", 1288, 639)]:
    text(t, x, y, size=14, color="#222", family=SERIF, bold=True)
for t, x, y in [("17", 1066, 547), ("85", 981, 641), ("2", 1141, 639), ("8", 941, 741), ("6", 1184, 744)]:
    text(t, x, y, size=10, color="#222", family=SERIF, bold=True)

# ---------- Dendrogram helper ----------
def walk(node, segx, segy, leaf_h):
    if isinstance(node, int):
        return node, leaf_h
    h, a, b = node
    pa, ha = walk(a, segx, segy, leaf_h)
    pb, hb = walk(b, segx, segy, leaf_h)
    segx += [pa, pa, pb, pb, None]
    segy += [ha, h, h, hb, None]
    return (pa + pb) / 2, h

# F
sx, sy = [], []
walk(F_TREE, sx, sy, 0.15)
fig.add_trace(go.Scatter(x=sx, y=sy, mode="lines", line=dict(color="#555", width=1.1), xaxis="x5", yaxis="y5", hoverinfo="skip"))
unit = 26.8
fig.update_layout(
    xaxis5=dict(domain=xdom(1397, 1850), range=[(1397 - 1427.5) / unit, (1850 - 1427.5) / unit], tickvals=list(range(16)), ticktext=F_LEAVES, tickangle=-90,
                showgrid=False, zeroline=False, showline=False, ticks="", tickfont=dict(size=13, family=SERIF, color="#333", weight="bold"), anchor="y5"),
    yaxis5=dict(domain=ydom(472.7, 853), range=[0, 30], tickvals=[0, 5, 10, 15, 20, 25, 30], tickangle=-90, showgrid=False, zeroline=False, showline=True,
                linecolor="#444", linewidth=1.2, ticks="outside", ticklen=4, tickcolor="#444", tickfont=dict(size=10, family=SERIF, color="#333"), anchor="x5"))
text("Hierarchical Clustering", 1629, 439, size=15.5, color="#222", bold=True)
text("Height", 1342.5, 667, size=13, color="#444", angle=-90)

# G dendrogram
sy2, sx2 = [], []
walk(G_TREE, sy2, sx2, 150)
fig.add_trace(go.Scatter(x=sx2, y=sy2, mode="lines", line=dict(color="#444", width=1), xaxis="x6", yaxis="y6", hoverinfo="skip"))
fig.update_layout(xaxis6=dict(domain=xdom(0, 86), range=[0, 150], visible=False, anchor="y6"),
                  yaxis6=dict(domain=ydom(961.7, 1630.7), range=[45.5, -0.5], visible=False, anchor="x6"))

# G heat
g_scale = [[(v - G_STOPS_V[0]) / (G_STOPS_V[-1] - G_STOPS_V[0]), c] for v, c in zip(G_STOPS_V, G_STOPS_C)]
fig.add_trace(go.Heatmap(z=G_Z, x=G_COLS, y=G_ROWS, colorscale=g_scale, zmin=-2.3, zmax=3.5, xgap=1, ygap=1, xaxis="x7", yaxis="y7",
                         colorbar=dict(x=fx(847), xanchor="left", xpad=0, y=fy(962), yanchor="top", ypad=0, len=(1164 - 962) / H, thickness=14, outlinewidth=0,
                                       tickvals=[-2, -1, 0, 1, 2, 3], ticktext=["-2", "-1", "0", "1", "2", "3"], ticks="", tickfont=dict(size=15, family=SERIF, color="#111", weight="bold"))))
fig.update_layout(
    xaxis7=dict(domain=xdom(86, 600), type="category", tickangle=-90, ticks="", showgrid=False, tickfont=dict(size=11.5, family=SERIF, color="#111", weight="bold"), anchor="y7", side="bottom"),
    yaxis7=dict(domain=ydom(961.7, 1630.7), type="category", autorange="reversed", ticks="", showgrid=False, side="right", tickfont=dict(size=14.2, family=SERIF, color="#111", weight="bold"), anchor="x7", dtick=1, ticklabelstandoff=3))
shapes.append(dict(type="rect", xref="paper", yref="paper", x0=fx(86), x1=fx(600), y0=fy(1630.7), y1=fy(961.7), layer="below", fillcolor="#a4a4a4", line=dict(color="#a4a4a4", width=1)))
text("Heatmap", 343, 907, size=22, color="#111", family=SERIF, bold=True)

# ---------- H ----------
h_stops_v = [2.2, 4, 6, 8, 9.1]
h_stops_c = ["#00ff00", "#8fd000", "#d89000", "#f85000", "#ff0000"]
h_scale = [[(v - 2.2) / (9.1 - 2.2), c] for v, c in zip(h_stops_v, h_stops_c)]
diam = np.interp(H_NUM, [3, 4, 8, 12, 16], [3.5, 6, 15.5, 20, 24])
fig.add_trace(go.Scatter(x=H_RICH, y=H_PATHS, mode="markers", xaxis="x8", yaxis="y8",
                         marker=dict(size=diam, opacity=1, color=H_P, colorscale=h_scale, cmin=2.2, cmax=9.1, line=dict(width=0),
                                     colorbar=dict(x=fx(1710), xanchor="left", xpad=0, y=fy(1168), yanchor="top", ypad=0, len=(1286 - 1168) / H, thickness=31, outlinewidth=0,
                                                   tickvals=[4, 6, 8], ticks="inside", ticklen=6, tickcolor="#fff", tickfont=dict(size=13, family=SANS, color="#333")))))
fig.update_layout(
    xaxis8=dict(domain=xdom(1255, 1681), range=[0.0768, 0.3735], tickvals=[.1, .2, .3], ticktext=["0.1", "0.2", "0.3"], showgrid=True, gridcolor="#ebebeb", gridwidth=1.2, zeroline=False,
                minor=dict(tick0=0.05, dtick=0.1, showgrid=True, gridcolor="#f2f2f2", ticks=""), showline=True, linecolor="#808080", linewidth=2, mirror=True, ticks="", tickfont=dict(size=13, family=SANS, color="#444"), anchor="y8"),
    yaxis8=dict(domain=ydom(934, 1640), type="category", categoryorder="array", categoryarray=H_PATHS[::-1], range=[-0.6, 19.6], showgrid=True, gridcolor="#ebebeb", gridwidth=1.2, zeroline=False,
                showline=True, linecolor="#808080", linewidth=2, mirror=True, ticks="outside", ticklen=5, tickcolor="#666", tickfont=dict(size=15.3, family=SANS, color="#333"), anchor="x8"))
text("Rich factor", 1468, 1678, size=18, color="#333")
text("Enriched KEGG Pathways (Top 20)", 900, 1286, size=15, color="#333", angle=-90)
text("−log<sub>10</sub>(p.value)", 1710, 1153, size=20, color="#222", anchor="left")
text("Metabolite number", 1710, 1324, size=19.5, color="#222", anchor="left")
for n, yy in zip([4, 8, 12, 16], [1350, 1373, 1397, 1420]):
    overlay_x.append(1725.5); overlay_y.append(yy); overlay_sym.append("circle"); overlay_col.append("#000")
    overlay_size.append(float(np.interp(n, [3, 4, 8, 12, 16], [3.5, 5, 15.5, 20, 24])))
    text(str(n), 1759, yy, size=13, color="#333", anchor="center")

# ---------- I ----------
i_scale = [[0, "#0000ff"], [0.5, "#ffffff"], [1, "#ff0000"]]
fig.add_trace(go.Heatmap(z=I_Z, x=I_COLS, y=I_ROWS, text=I_STARS, texttemplate="%{text}", textfont=dict(color="#fff", size=16, family=SANS),
                         colorscale=i_scale, zmin=-0.97, zmax=0.97, xaxis="x9", yaxis="y9",
                         colorbar=dict(x=fx(1311), xanchor="left", xpad=0, y=fy(1814), yanchor="top", ypad=0, len=(1947 - 1814) / H, thickness=25, outlinewidth=0,
                                       tickvals=[-.75, -.5, -.25, 0, .25, .5, .75], ticktext=["-0.75", "-0.5", "-0.25", "0", "0.25", "0.5", "0.75"], ticks="inside", ticklen=4, tickcolor="rgba(255,255,255,.7)",
                                       tickfont=dict(size=19, family=SANS, color="#111"))))
fig.update_layout(
    xaxis9=dict(domain=xdom(408, 1228.6), type="category", tickangle=39, ticks="outside", ticklen=8, tickcolor="#aaa", showgrid=False, tickfont=dict(size=20.2, family=SANS, color="#555"), anchor="y9"),
    yaxis9=dict(domain=ydom(1814, 1947), type="category", autorange="reversed", ticks="", showgrid=False, side="right", tickfont=dict(size=20, family=SANS, color="#555"), anchor="x9", ticklabelstandoff=16))
text("Correlation heatmap", 838, 1728, size=25, color="#222", bold=True)

# ---------- overlay for legend keys ----------
fig.add_trace(go.Scatter(x=overlay_x, y=overlay_y, mode="markers", xaxis="x10", yaxis="y10", hoverinfo="skip",
                         marker=dict(symbol=overlay_sym, opacity=1, color=overlay_col, size=overlay_size, line=dict(color=overlay_col, width=1))))
fig.update_layout(xaxis10=dict(domain=[0, 1], range=[0, W], visible=False, anchor="y10"),
                  yaxis10=dict(domain=[0, 1], range=[H, 0], visible=False, anchor="x10"))

fig.update_layout(width=W, height=H, autosize=False, margin=dict(l=0, r=0, t=0, b=0, autoexpand=False), paper_bgcolor="#fff", plot_bgcolor="rgba(0,0,0,0)",
                  showlegend=False, annotations=ann, shapes=shapes, font=dict(family=SANS))
fig.write_html("out.html", post_script="document.body.style.margin='0';", config=dict(displayModeBar=False))
